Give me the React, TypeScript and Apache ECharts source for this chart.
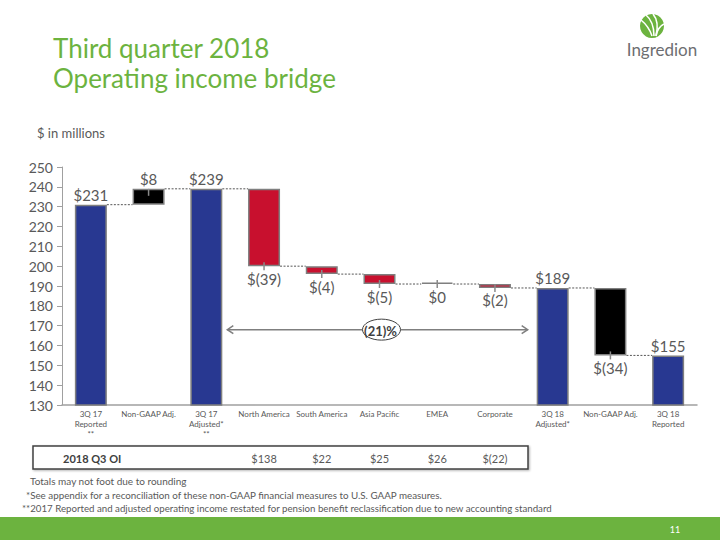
import React, { useEffect, useRef } from "react";
import * as echarts from "echarts";

const categories = [
  "3Q 17\nReported\n**",
  "Non-GAAP Adj.",
  "3Q 17\nAdjusted*\n**",
  "North America",
  "South America",
  "Asia Pacific",
  "EMEA",
  "Corporate",
  "3Q 18\nAdjusted*",
  "Non-GAAP Adj.",
  "3Q 18\nReported",
];
const stepValues = [231, 8, 239, -39, -4, -5, 0, -2, 189, -34, 155];
const stepKinds = ["total", "adj", "total", "seg", "seg", "seg", "seg", "seg", "total", "adj", "total"];
const valueLabels = ["$231", "$8", "$239", "$(39)", "$(4)", "$(5)", "$0", "$(2)", "$189", "$(34)", "$155"];
const yTicks = [130, 140, 150, 160, 170, 180, 190, 200, 210, 220, 230, 240, 250];
const tableLabel = "2018 Q3 OI";
const tableCategoryIdx = [3, 4, 5, 6, 7];
const tableValues = ["$138", "$22", "$25", "$26", "$(22)"];
const changeLabel = "(21)%";
const arrowLevel = 168;
const footnotes = [
  "Totals may not foot due to rounding",
  "*See appendix for a reconciliation of these non-GAAP financial measures to U.S. GAAP measures.",
  "**2017 Reported and adjusted operating income restated for pension benefit reclassification due to new accounting standard",
];

const BLUE = "#283891";
const RED = "#C8102E";
const GREEN = "#6CB33F";
const GRAY_TXT = "#595959";
const FONT = "Lato, 'Open Sans', sans-serif";
const BAR_W = 32;

export default function App() {
  const ref = useRef<HTMLDivElement>(null);
  useEffect(() => {
    if (!ref.current) return;
    const chart = echarts.init(ref.current, undefined, { renderer: "svg" });

    // waterfall build
    const bases: number[] = [];
    const heights: number[] = [];
    const ends: number[] = [];
    const edges: number[] = [];
    let level = 0;
    stepValues.forEach((v, i) => {
      if (stepKinds[i] === "total") {
        bases.push(0);
        heights.push(v);
        level = v;
        edges.push(v);
      } else if (v > 0) {
        bases.push(level);
        heights.push(v);
        level = level + v;
        edges.push(level);
      } else {
        bases.push(level + v);
        heights.push(-v);
        level = level + v;
        edges.push(level);
      }
      ends.push(level);
    });

    const visible = heights.map((h, i) => {
      const kind = stepKinds[i];
      const v = stepValues[i];
      const color = kind === "total" ? BLUE : kind === "adj" ? "#000000" : v === 0 ? "#7f7f7f" : RED;
      const below = kind !== "total" && v <= 0;
      return {
        value: h,
        itemStyle: { color, borderColor: "#7f7f7f", borderWidth: 1.5 },
        label: {
          show: true,
          position: below ? "bottom" : "top",
          distance: below ? 5 : 2,
          formatter: valueLabels[i],
          fontSize: 15,
          fontFamily: FONT,
          color: GRAY_TXT,
        },
      };
    });

    const connectors = ends.slice(0, ends.length - 1).map((lv, i) => [i, lv]);
    const leaders = stepKinds
      .map((k, i) => (k === "total" ? null : [i, edges[i], stepValues[i] > 0 ? 1 : 0]))
      .filter((d) => d !== null);

    chart.setOption({
      animation: false,
      grid: { left: 62, right: 23, top: 167, bottom: 135 },
      xAxis: {
        type: "category",
        data: categories,
        axisTick: { show: false },
        axisLine: { lineStyle: { color: "#a0a0a0", width: 1.5 } },
        axisLabel: {
          interval: 0,
          fontSize: 8,
          lineHeight: 10,
          color: GRAY_TXT,
          fontFamily: FONT,
          margin: 4,
        },
      },
      yAxis: {
        type: "value",
        min: yTicks[0],
        max: yTicks[yTicks.length - 1],
        interval: 10,
        splitLine: { show: false },
        axisLine: { show: true, lineStyle: { color: "#a0a0a0", width: 1 } },
        axisTick: { show: true, length: 5, lineStyle: { color: "#a0a0a0" } },
        axisLabel: { fontSize: 14, color: GRAY_TXT, fontFamily: FONT, margin: 9 },
      },
      series: [
        {
          type: "custom",
          name: "connectors",
          z: 1,
          data: connectors,
          renderItem: (params: any, api: any) => {
            const p = api.coord([api.value(0), api.value(1)]);
            const w = api.size([1, 0])[0];
            return {
              type: "line",
              shape: { x1: p[0] + BAR_W / 2, y1: p[1], x2: p[0] + w - BAR_W / 2, y2: p[1] },
              style: { stroke: "#555555", lineWidth: 1, lineDash: [2, 1.5] },
            };
          },
        },
        {
          type: "bar",
          stack: "wf",
          barWidth: BAR_W,
          z: 2,
          itemStyle: { color: "transparent" },
          data: bases,
          silent: true,
        },
        {
          type: "bar",
          stack: "wf",
          barWidth: BAR_W,
          barMinHeight: 1.5,
          z: 2,
          data: visible,
        },
        {
          type: "custom",
          name: "leaders",
          z: 3,
          data: leaders,
          renderItem: (params: any, api: any) => {
            const p = api.coord([api.value(0), api.value(1)]);
            const up = api.value(2) === 1;
            return {
              type: "line",
              shape: up
                ? { x1: p[0], y1: p[1], x2: p[0], y2: p[1] + 7 }
                : { x1: p[0], y1: p[1] - 4, x2: p[0], y2: p[1] + 4 },
              style: { stroke: "#8a8a8a", lineWidth: 1.5 },
            };
          },
        },
      ],
    });

    const cx = (i: number) => chart.convertToPixel({ xAxisIndex: 0 }, i) as number;
    const ay = chart.convertToPixel({ yAxisIndex: 0 }, arrowLevel) as number;
    const ax1 = cx(2) + BAR_W / 2 + 5;
    const ax2 = cx(8) - BAR_W / 2 - 9;
    const ex = (ax1 + ax2) / 2 + 4;
    const erx = 19;
    const ery = 10.5;
    const arrowStyle = { stroke: "#7f7f7f", lineWidth: 1.5, fill: null };

    const graphic: any[] = [
      // title
      { type: "text", x: 53, y: 48, style: { text: "Third quarter 2018", font: `26px ${FONT}`, fill: GREEN, verticalAlign: "middle" } },
      { type: "text", x: 53, y: 78, style: { text: "Operating income bridge", font: `26px ${FONT}`, fill: GREEN, verticalAlign: "middle" } },
      { type: "text", x: 37, y: 133, style: { text: "$ in millions", font: `13px ${FONT}`, fill: GRAY_TXT, verticalAlign: "middle" } },
      // logo
      { type: "circle", shape: { cx: 652, cy: 26, r: 12 }, style: { fill: GREEN } },
      { type: "bezierCurve", shape: { x1: 641, y1: 20, x2: 652, y2: 36, cpx1: 646, cpy1: 24, cpx2: 650, cpy2: 30 }, style: { stroke: "#fff", lineWidth: 1.6, fill: null } },
      { type: "bezierCurve", shape: { x1: 646, y1: 15, x2: 654, y2: 36, cpx1: 652, cpy1: 20, cpx2: 654, cpy2: 28 }, style: { stroke: "#fff", lineWidth: 1.6, fill: null } },
      { type: "bezierCurve", shape: { x1: 653, y1: 14, x2: 656, y2: 36, cpx1: 658, cpy1: 20, cpx2: 658, cpy2: 28 }, style: { stroke: "#fff", lineWidth: 1.6, fill: null } },
      { type: "bezierCurve", shape: { x1: 664, y1: 24, x2: 656, y2: 36, cpx1: 660, cpy1: 26, cpx2: 657, cpy2: 30 }, style: { stroke: "#fff", lineWidth: 1.6, fill: null } },
      { type: "text", x: 662, y: 49, style: { text: "Ingredion", font: `17px ${FONT}`, fill: "#6d6e71", align: "center", verticalAlign: "middle" } },
      // arrow
      { type: "line", shape: { x1: ax1, y1: ay, x2: ex - erx, y2: ay }, style: arrowStyle },
      { type: "line", shape: { x1: ex + erx, y1: ay, x2: ax2, y2: ay }, style: arrowStyle },
      { type: "polyline", shape: { points: [[ax1 + 6, ay - 4], [ax1, ay], [ax1 + 6, ay + 4]] }, style: arrowStyle },
      { type: "polyline", shape: { points: [[ax2 - 6, ay - 4], [ax2, ay], [ax2 - 6, ay + 4]] }, style: arrowStyle },
      { type: "ellipse", shape: { cx: ex, cy: ay, rx: erx, ry: ery }, style: { stroke: "#404040", lineWidth: 1, fill: "#fff" } },
      { type: "text", x: ex - 1, y: ay + 1, style: { text: changeLabel, font: `bold 13px ${FONT}`, fill: "#404040", align: "center", verticalAlign: "middle" } },
      // table
      { type: "rect", shape: { x: 33, y: 446, width: 495, height: 23 }, style: { stroke: "#404040", lineWidth: 1.5, fill: "#fff", shadowBlur: 2, shadowOffsetX: 1, shadowOffsetY: 1, shadowColor: "rgba(0,0,0,0.3)" } },
      { type: "text", x: 63, y: 458, style: { text: tableLabel, font: `bold 11px ${FONT}`, fill: "#404040", verticalAlign: "middle" } },
      ...tableValues.map((t, k) => ({
        type: "text",
        x: cx(tableCategoryIdx[k]),
        y: 458,
        style: { text: t, font: `11px ${FONT}`, fill: GRAY_TXT, align: "center", verticalAlign: "middle" },
      })),
      // footnotes
      { type: "text", x: 30, y: 481, style: { text: footnotes[0], font: `10px ${FONT}`, fill: GRAY_TXT, verticalAlign: "middle" } },
      { type: "text", x: 26, y: 495, style: { text: footnotes[1], font: `9.8px ${FONT}`, fill: GRAY_TXT, verticalAlign: "middle" } },
      { type: "text", x: 22, y: 508, style: { text: footnotes[2], font: `9.7px ${FONT}`, fill: GRAY_TXT, verticalAlign: "middle" } },
      // footer bar
      { type: "rect", shape: { x: 0, y: 517, width: 720, height: 23 }, style: { fill: GREEN } },
      { type: "text", x: 675, y: 529, style: { text: "11", font: `9px ${FONT}`, fill: "#ffffff", align: "center", verticalAlign: "middle" } },
    ];
    chart.setOption({ graphic });

    return () => chart.dispose();
  }, []);
  return (
    <div
      ref={ref}
      style={{ position: "fixed", left: 0, top: 0, width: 720, height: 540, background: "#fff" }}
    />
  );
}
